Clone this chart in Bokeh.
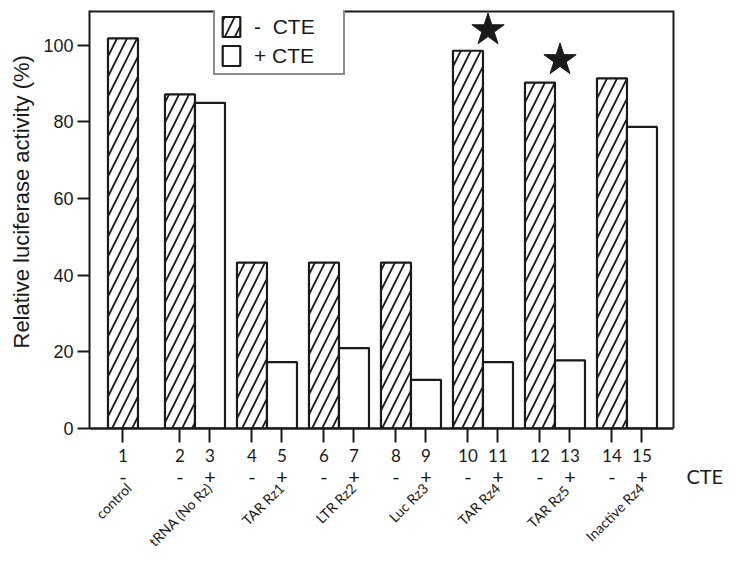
import math
from bokeh.plotting import figure
from bokeh.models import (Range1d, FixedTicker, LinearAxis, CustomJSTickFormatter,
                          Title, Legend, LegendItem)
from bokeh.embed import file_html
from bokeh.resources import INLINE

# ---------------- data ----------------
groups = ["control", "tRNA (No Rz)", "TAR Rz1", "LTR Rz2", "Luc Rz3",
          "TAR Rz4", "TAR  Rz5", "Inactive Rz4"]
minus_cte = [101.8, 87.2, 43.3, 43.3, 43.3, 98.6, 90.3, 91.4]   # % activity, - CTE
plus_cte = [None, 85.0, 17.3, 21.0, 12.7, 17.3, 17.8, 78.7]      # % activity, + CTE
lane_numbers = [str(i) for i in range(1, 16)]
star_groups = ["TAR Rz4", "TAR  Rz5"]
star_heights = [104.0, 96.2]
y_ticks = [0, 20, 40, 60, 80, 100]

# ---------------- layout helpers ----------------
BW = 30 / 72.0          # bar width in group units
OFF = BW / 2.0
INK = "#1a1a1a"
X0, X1 = -0.465, 7.646  # boxed plotting area
Y1 = 109.1

minus_x, minus_top, plus_x, plus_top = [], [], [], []
lane_x, lane_sign, label_x = [], [], []
for g, (m, pl) in enumerate(zip(minus_cte, plus_cte)):
    if pl is None:
        minus_x.append(g); minus_top.append(m)
        lane_x.append(g); lane_sign.append("-")
        label_x.append(g + 0.08)
    else:
        minus_x.append(g - OFF); minus_top.append(m)
        plus_x.append(g + OFF); plus_top.append(pl)
        lane_x += [g - OFF, g + OFF]; lane_sign += ["-", "+"]
        label_x.append(g + OFF - 0.01)

# frame extends to the right edge so that the "CTE" caption can sit there;
# the visible box is drawn up to X1
p = figure(width=723, height=561, output_backend="svg", toolbar_location=None,
           x_range=Range1d(X0, X0 + 634 / 72.0), y_range=Range1d(0, Y1),
           min_border_left=89, min_border_right=0, min_border_top=10,
           min_border_bottom=133)
p.xgrid.visible = False
p.ygrid.visible = False
p.outline_line_color = None
p.background_fill_color = "white"
p.border_fill_color = "white"

# box: top and right edges
p.segment(x0=[X0, X1], y0=[Y1, 0], x1=[X1, X1], y1=[Y1, Y1],
          line_color=INK, line_width=[4, 2])

r_minus = p.vbar(x=minus_x, top=minus_top, width=BW, bottom=0,
                 fill_color="white", line_color=INK, line_width=2.2,
                 hatch_pattern="/", hatch_color=INK, hatch_weight=1.8,
                 hatch_scale=20)
r_plus = p.vbar(x=plus_x, top=plus_top, width=BW, bottom=0,
                fill_color="white", line_color=INK, line_width=2.2)

star_x = [groups.index(s) + 0.07 for s in star_groups]
p.scatter(star_x, star_heights, marker="star", size=34,
          fill_color=INK, line_color=INK)

# ---- y axis ----
ya = p.yaxis[0]
ya.ticker = FixedTicker(ticks=y_ticks)
ya.major_tick_out = 12
ya.major_tick_in = 0
ya.minor_tick_line_color = None
ya.axis_line_width = 2
ya.axis_line_color = INK
ya.major_tick_line_width = 2
ya.major_tick_line_color = INK
ya.major_label_text_font = "Liberation Sans"
ya.major_label_text_font_size = "18px"
ya.major_label_text_color = INK
ya.major_label_standoff = 4

p.add_layout(Title(text="Relative luciferase activity (%)", align="left",
                   offset=80, standoff=13, text_font="Liberation Sans",
                   text_font_size="22px", text_font_style="normal",
                   text_color=INK), "left")

def label_formatter(pos, labels):
    return CustomJSTickFormatter(
        args=dict(pos=pos, labels=labels),
        code="const i = pos.findIndex(v => Math.abs(v - tick) < 1e-6);"
             "return i >= 0 ? labels[i] : '';")

# ---- x axis 1: lane numbers ----
xa = p.xaxis[0]
xa.ticker = FixedTicker(ticks=lane_x)
xa.formatter = label_formatter(lane_x, lane_numbers)
xa.bounds = (X0, X1)
xa.major_tick_out = 14
xa.major_tick_in = 0
xa.minor_tick_line_color = None
xa.axis_line_width = 2.5
xa.axis_line_color = INK
xa.major_tick_line_width = 2
xa.major_tick_line_color = INK
xa.major_label_text_font = "Lato"
xa.major_label_text_font_size = "17px"
xa.major_label_text_color = INK
xa.major_label_standoff = 6

# ---- x axis 2: CTE signs + "CTE" caption ----
cte_x = 8.08
sign_pos = lane_x + [cte_x]
sign_txt = lane_sign + ["CTE"]
xa2 = LinearAxis(ticker=FixedTicker(ticks=sign_pos),
                 formatter=label_formatter(sign_pos, sign_txt),
                 axis_line_color=None,
                 major_tick_line_color=None, minor_tick_line_color=None,
                 major_tick_out=0, major_tick_in=0, major_label_standoff=-1,
                 major_label_text_font="Lato", major_label_text_font_size="20px",
                 major_label_text_color=INK)
p.add_layout(xa2, "below")

# ---- x axis 3: rotated group names ----
xa3 = LinearAxis(ticker=FixedTicker(ticks=label_x),
                 formatter=label_formatter(label_x, groups),
                 axis_line_color=None, major_tick_line_color=None,
                 minor_tick_line_color=None, major_tick_out=0, major_tick_in=0,
                 major_label_standoff=-5, major_label_orientation=math.pi / 4,
                 major_label_text_font="Lato", major_label_text_font_size="14px",
                 major_label_text_color=INK)
p.add_layout(xa3, "below")

legend = Legend(items=[LegendItem(label="-  CTE", renderers=[r_minus]),
                       LegendItem(label="+ CTE", renderers=[r_plus])],
                location=(124, 353), orientation="vertical",
                border_line_color=INK, border_line_width=2,
                padding=5, spacing=4, glyph_width=22, glyph_height=25,
                label_height=25, label_width=84, label_standoff=12,
                label_text_font="Liberation Sans", label_text_font_size="21px",
                label_text_color=INK, margin=0, background_fill_alpha=1)
p.add_layout(legend)

open("out.html", "w").write(file_html(p, INLINE))
